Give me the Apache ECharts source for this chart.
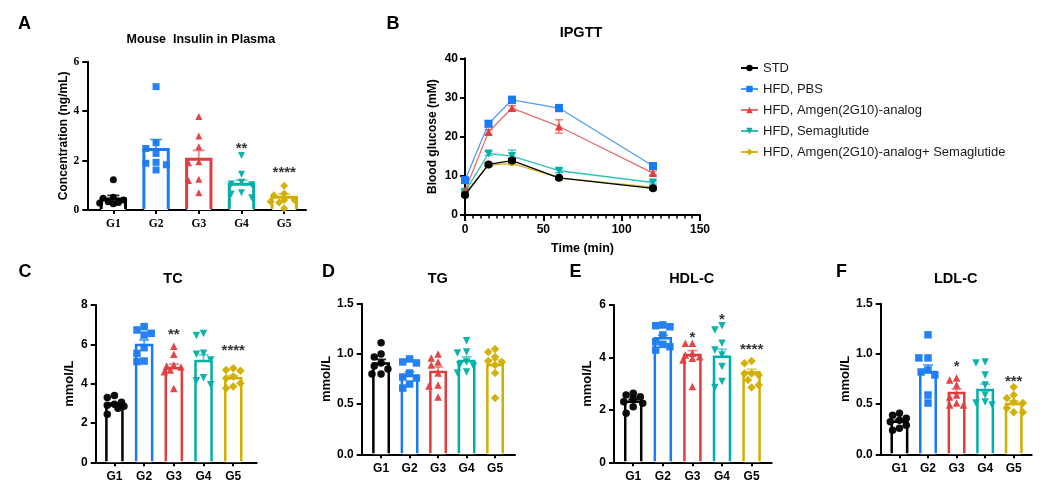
<!DOCTYPE html>
<html><head><meta charset="utf-8">
<script src="https://cdn.jsdelivr.net/npm/echarts@6/dist/echarts.min.js"></script>
<style>html,body{margin:0;padding:0;background:#fff}#c{width:1046px;height:490px}</style>
</head><body><div id="c"></div>
<script>
// ---------------- DATA ----------------
const groups = ['G1', 'G2', 'G3', 'G4', 'G5'];

// A: Mouse Insulin in Plasma (ng/mL)
const insulinMean = [0.45, 2.45, 2.05, 1.04, 0.52];
const insulinSem = [0.14, 0.40, 0.36, 0.17, 0.13];
const insulinPts = [
  [1.22, 0.52, 0.48, 0.40, 0.33, 0.28, 0.25, 0.30],
  [4.99, 2.72, 2.49, 2.29, 1.93, 1.89, 1.83, 1.62],
  [3.78, 2.99, 2.56, 1.95, 1.91, 1.24, 1.19, 0.70],
  [2.20, 1.45, 1.12, 1.02, 1.05, 0.70, 0.65, 0.50],
  [0.98, 0.67, 0.60, 0.40, 0.34, 0.30, 0.40, 0.07]
];
const insulinStars = ['', '', '', '**', '****'];
const insulinStarY = [0, 0, 0, 2.47, 1.50];

// B: IPGTT blood glucose (mM)
const ipgttTime = [0, 15, 30, 60, 120];
const ipgttSTD = [5.1, 12.9, 13.9, 9.5, 6.8];
const ipgttSTDSem = [0.3, 0.4, 0.5, 0.3, 0.3];
const ipgttPBS = [8.9, 23.3, 29.4, 27.3, 12.5];
const ipgttPBSSem = [0.5, 0.8, 0.9, 0.9, 0.6];
const ipgttAmgen = [6.2, 21.2, 27.3, 22.6, 10.7];
const ipgttAmgenSem = [0.3, 0.6, 0.6, 1.7, 0.5];
const ipgttSema = [5.95, 15.7, 15.05, 11.3, 8.3];
const ipgttSemaSem = [0.3, 0.5, 1.5, 0.5, 0.4];
const ipgttCombo = [5.6, 12.7, 13.2, 9.5, 7.1];
const ipgttComboSem = [0.2, 0.4, 0.4, 0.3, 0.3];
const ipgttNames = ['STD', 'HFD, PBS', 'HFD, Amgen(2G10)-analog', 'HFD, Semaglutide', 'HFD, Amgen(2G10)-analog+ Semaglutide'];

// C: TC (mmol/L)
const tcMean = [2.92, 5.97, 4.78, 5.15, 4.27];
const tcSem = [0.10, 0.25, 0.22, 0.32, 0.14];
const tcPts = [
  [3.40, 3.30, 3.05, 2.95, 2.90, 2.85, 2.75, 2.45],
  [6.90, 6.73, 6.56, 6.47, 5.83, 5.54, 5.15, 5.12],
  [5.90, 5.50, 4.95, 4.90, 4.85, 4.70, 4.60, 3.75],
  [6.55, 6.45, 5.55, 5.50, 5.20, 4.30, 4.15, 3.95],
  [4.78, 4.70, 4.65, 4.36, 4.27, 4.02, 3.85, 3.76]
];
const tcStars = ['', '', '**', '', '****'];
const tcStarY = [0, 0, 6.49, 0, 5.68];

// D: TG (mmol/L)
const tgMean = [0.905, 0.78, 0.82, 0.93, 0.89];
const tgSem = [0.04, 0.04, 0.05, 0.04, 0.05];
const tgPts = [
  [1.11, 1.00, 0.97, 0.91, 0.88, 0.85, 0.80, 0.80],
  [0.95, 0.92, 0.91, 0.81, 0.77, 0.76, 0.70, 0.66],
  [1.00, 0.96, 0.92, 0.89, 0.81, 0.69, 0.68, 0.57],
  [1.13, 1.02, 1.01, 0.92, 0.89, 0.88, 0.82, 0.81],
  [1.05, 1.02, 0.97, 0.93, 0.92, 0.89, 0.81, 0.56]
];
const tgStars = ['', '', '', '', ''];
const tgStarY = [0, 0, 0, 0, 0];

// E: HDL-C (mmol/L)
const hdlMean = [2.31, 4.73, 4.09, 4.03, 3.43];
const hdlSem = [0.08, 0.12, 0.17, 0.28, 0.12];
const hdlPts = [
  [2.63, 2.57, 2.50, 2.44, 2.31, 2.25, 2.12, 1.87],
  [5.24, 5.21, 5.17, 4.86, 4.60, 4.50, 4.41, 4.28],
  [4.54, 4.54, 4.16, 4.09, 4.03, 3.97, 3.90, 2.89],
  [5.21, 5.05, 4.54, 4.28, 4.09, 3.65, 3.08, 2.85],
  [3.86, 3.78, 3.39, 3.39, 3.33, 3.14, 2.95, 2.85]
];
const hdlStars = ['', '', '*', '*', '****'];
const hdlStarY = [0, 0, 4.74, 5.44, 4.27];

// F: LDL-C (mmol/L)
const ldlMean = [0.325, 0.82, 0.61, 0.64, 0.50];
const ldlSem = [0.02, 0.07, 0.04, 0.06, 0.03];
const ldlPts = [
  [0.41, 0.39, 0.36, 0.34, 0.325, 0.29, 0.26, 0.24],
  [1.19, 0.96, 0.96, 0.84, 0.82, 0.79, 0.59, 0.51],
  [0.76, 0.74, 0.69, 0.59, 0.57, 0.51, 0.49, 0.49],
  [0.92, 0.91, 0.79, 0.69, 0.59, 0.52, 0.51, 0.49],
  [0.67, 0.59, 0.56, 0.52, 0.51, 0.46, 0.42, 0.42]
];
const ldlStars = ['', '', '*', '', '***'];
const ldlStarY = [0, 0, 0.867, 0, 0.72];

// ---------------- STYLE / LAYOUT ----------------
const SANS = 'Liberation Sans, Arial, Helvetica, sans-serif';
const SERIF = 'Liberation Serif, Times New Roman, serif';
const colors = ['#000000', '#1a7bf2', '#e23d3d', '#00b0a8', '#d2ae00'];
const errColors = ['rgba(0,0,0,0.85)', 'rgba(26,123,242,0.7)', 'rgba(226,61,61,0.6)', 'rgba(0,176,168,0.6)', 'rgba(210,174,0,0.6)'];
const lineColors = ['#000000', 'rgba(26,123,242,0.75)', 'rgba(226,61,61,0.75)', 'rgba(0,176,168,0.8)', 'rgba(210,174,0,0.85)'];
const downTri = 'path://M0,0L10,0L5,9Z';
const groupSymbols = ['circle', 'rect', 'triangle', downTri, 'diamond'];

const barPanels = [
  {grid: 0, mean: insulinMean, sem: insulinSem, pts: insulinPts, stars: insulinStars, starY: insulinStarY,
   box: {left: 87.3, top: 61.7, width: 218.7, height: 148.3}, xmin: -0.61, xmax: 4.51, ymax: 6, yint: 2, dec: 0,
   serif: true, frac: 0.57, bw: 3, cap: 6, sym: 7, yname: 'Concentration (ng/mL)', nameGap: 13, nameSize: 12},
  {grid: 2, mean: tcMean, sem: tcSem, pts: tcPts, stars: tcStars, starY: tcStarY,
   box: {left: 95.7, top: 305, width: 161, height: 157.3}, xmin: -0.63, xmax: 4.79, ymax: 8, yint: 2, dec: 0,
   serif: false, frac: 0.54, bw: 2.5, cap: 5, sym: 7.5, yname: 'mmol/L', nameGap: 20, nameSize: 13},
  {grid: 3, mean: tgMean, sem: tgSem, pts: tgPts, stars: tgStars, starY: tgStarY,
   box: {left: 361.7, top: 303.7, width: 153.3, height: 150.6}, xmin: -0.68, xmax: 4.70, ymax: 1.5, yint: 0.5, dec: 1,
   serif: false, frac: 0.54, bw: 2.5, cap: 5, sym: 7.5, yname: 'mmol/L', nameGap: 27, nameSize: 13},
  {grid: 4, mean: hdlMean, sem: hdlSem, pts: hdlPts, stars: hdlStars, starY: hdlStarY,
   box: {left: 614, top: 305, width: 157.7, height: 157.3}, xmin: -0.65, xmax: 4.68, ymax: 6, yint: 2, dec: 0,
   serif: false, frac: 0.54, bw: 2.5, cap: 5, sym: 7.5, yname: 'mmol/L', nameGap: 20, nameSize: 13},
  {grid: 5, mean: ldlMean, sem: ldlSem, pts: ldlPts, stars: ldlStars, starY: ldlStarY,
   box: {left: 880.7, top: 303.7, width: 151, height: 150.6}, xmin: -0.656, xmax: 4.63, ymax: 1.5, yint: 0.5, dec: 1,
   serif: false, frac: 0.54, bw: 2.5, cap: 5, sym: 7.5, yname: 'mmol/L', nameGap: 27, nameSize: 13}
];
const lineBox = {left: 465, top: 58.3, width: 235, height: 156.7};

// beeswarm-like horizontal spread (layout only, values untouched)
function spread(values, sx, sy, minDist) {
  const cands = [0, -0.24, 0.24, -0.12, 0.12, -0.32, 0.32];
  const order = values.map((v, i) => i).sort((a, b) => values[b] - values[a]);
  const placed = [];
  const offs = new Array(values.length).fill(0);
  order.forEach(idx => {
    const v = values[idx];
    let best = 0, bestD = -1;
    for (const c of cands) {
      let md = Infinity;
      for (const p of placed) {
        const d = Math.hypot((c - p[0]) * sx, (v - p[1]) * sy);
        if (d < md) md = d;
      }
      if (md >= minDist) { best = c; bestD = md; break; }
      if (md > bestD) { bestD = md; best = c; }
    }
    placed.push([best, v]);
    offs[idx] = best;
  });
  return offs;
}

const grids = [], xAxes = [], yAxes = [], series = [];
const axisLineStyle = {color: '#000', width: 2};

barPanels.forEach(p => {
  grids[p.grid] = Object.assign({containLabel: false}, p.box);
});
grids[1] = Object.assign({containLabel: false}, lineBox);

for (let gi = 0; gi < 6; gi++) {
  if (gi === 1) {
    xAxes.push({
      type: 'value', gridIndex: 1, min: 0, max: 150, interval: 50,
      axisLine: {show: true, onZero: false, lineStyle: axisLineStyle},
      axisTick: {show: true, length: 6, lineStyle: {color: '#000', width: 2}},
      minorTick: {show: true, splitNumber: 10, length: 3.5, lineStyle: {color: '#000', width: 1.5}},
      axisLabel: {margin: 9, color: '#000', fontWeight: 'bold', fontSize: 12, fontFamily: SANS},
      splitLine: {show: false},
      name: 'Time (min)', nameLocation: 'middle', nameGap: 27,
      nameTextStyle: {color: '#000', fontWeight: 'bold', fontSize: 12.5, fontFamily: SANS}
    });
    yAxes.push({
      type: 'value', gridIndex: 1, min: 0, max: 40, interval: 10,
      axisLine: {show: true, onZero: false, lineStyle: axisLineStyle},
      axisTick: {show: true, length: 5, lineStyle: {color: '#000', width: 2}},
      axisLabel: {margin: 7, color: '#000', fontWeight: 'bold', fontSize: 12, fontFamily: SANS},
      splitLine: {show: false},
      name: 'Blood glucose (mM)', nameLocation: 'middle', nameGap: 26,
      nameTextStyle: {color: '#000', fontWeight: 'bold', fontSize: 12, fontFamily: SANS}
    });
    continue;
  }
  const p = barPanels.find(b => b.grid === gi);
  const fam = p.serif ? SERIF : SANS;
  const fs = p.serif ? 11.5 : 12;
  xAxes.push({
    type: 'value', gridIndex: gi, min: p.xmin, max: p.xmax,
    axisLine: {show: true, onZero: false, lineStyle: axisLineStyle},
    axisTick: {show: true, customValues: [0, 1, 2, 3, 4], length: 4, lineStyle: {color: '#000', width: 2}},
    axisLabel: {customValues: [0, 1, 2, 3, 4], formatter: v => groups[Math.round(v)] || '',
      margin: 8, color: '#000', fontWeight: 'bold', fontSize: fs, fontFamily: fam},
    splitLine: {show: false}
  });
  yAxes.push({
    type: 'value', gridIndex: gi, min: 0, max: p.ymax, interval: p.yint,
    axisLine: {show: true, onZero: false, lineStyle: axisLineStyle},
    axisTick: {show: true, length: 5, lineStyle: {color: '#000', width: 2}},
    axisLabel: {formatter: v => v.toFixed(p.dec), margin: 8, color: '#000', fontWeight: 'bold', fontSize: fs, fontFamily: fam},
    splitLine: {show: false},
    name: p.yname, nameLocation: 'middle', nameGap: p.nameGap,
    nameTextStyle: {color: '#000', fontWeight: 'bold', fontSize: p.nameSize, fontFamily: SANS}
  });
}

barPanels.forEach(p => {
  const gi = p.grid;
  const frac = p.frac, bw = p.bw, cap = p.cap;
  series.push({
    type: 'custom', xAxisIndex: gi, yAxisIndex: gi, z: 2, silent: true,
    data: p.mean.map((m, i) => [i, m]),
    renderItem: (params, api) => {
      const x = api.value(0), y = api.value(1);
      const b = api.coord([x, 0]), t = api.coord([x, y]);
      const w = api.size([frac, 0])[0];
      const x0 = b[0] - w / 2, x1 = b[0] + w / 2;
      const c = colors[params.dataIndex];
      return {type: 'group', children: [
        {type: 'rect', shape: {x: x0, y: t[1], width: w, height: b[1] - t[1]}, style: {fill: '#fff'}},
        {type: 'polyline', shape: {points: [[x0, b[1] - 1], [x0, t[1]], [x1, t[1]], [x1, b[1] - 1]]},
         style: {stroke: c, lineWidth: bw, fill: null, lineJoin: 'miter'}}
      ]};
    }
  });
  series.push({
    type: 'custom', xAxisIndex: gi, yAxisIndex: gi, z: 3, silent: true,
    data: p.mean.map((m, i) => [i, m, p.sem[i]]),
    renderItem: (params, api) => {
      const x = api.value(0), y = api.value(1), e = api.value(2);
      const a = api.coord([x, y]), t = api.coord([x, y + e]);
      const c = errColors[params.dataIndex];
      return {type: 'group', children: [
        {type: 'line', shape: {x1: a[0], y1: a[1], x2: t[0], y2: t[1]}, style: {stroke: c, lineWidth: 1.8}},
        {type: 'line', shape: {x1: t[0] - cap, y1: t[1], x2: t[0] + cap, y2: t[1]}, style: {stroke: c, lineWidth: 1.8}}
      ]};
    }
  });
  const sx = p.box.width / (p.xmax - p.xmin), sy = p.box.height / p.ymax;
  p.pts.forEach((arr, i) => {
    const offs = spread(arr, sx, sy, p.sym - 0.5);
    series.push({
      type: 'scatter', xAxisIndex: gi, yAxisIndex: gi, z: 4, silent: true,
      symbol: groupSymbols[i], symbolSize: i === 4 ? p.sym + 1 : p.sym,
      itemStyle: {color: colors[i], opacity: 0.95},
      data: arr.map((v, k) => [i + offs[k], v])
    });
  });
  const starData = [];
  p.stars.forEach((s, i) => { if (s) starData.push({value: [i, p.starY[i]], name: s}); });
  if (starData.length) series.push({
    type: 'scatter', xAxisIndex: gi, yAxisIndex: gi, z: 5, silent: true,
    symbol: 'circle', symbolSize: 1, itemStyle: {color: 'transparent'},
    label: {show: true, position: 'inside', formatter: d => d.name, color: '#000',
      fontSize: 15, fontWeight: 'bold', fontFamily: SANS},
    data: starData
  });
});

// IPGTT lines
const ipgttVals = [ipgttSTD, ipgttPBS, ipgttAmgen, ipgttSema, ipgttCombo];
const ipgttSems = [ipgttSTDSem, ipgttPBSSem, ipgttAmgenSem, ipgttSemaSem, ipgttComboSem];
const lineSymSize = [8, 8, 8, 8, 7];
const drawOrder = [4, 3, 2, 1, 0];
drawOrder.forEach((k, n) => {
  series.push({
    type: 'custom', xAxisIndex: 1, yAxisIndex: 1, z: 2 + n * 0.1, silent: true,
    data: ipgttTime.map((t, i) => [t, ipgttVals[k][i], ipgttSems[k][i]]),
    renderItem: (params, api) => {
      const x = api.value(0), y = api.value(1), e = api.value(2);
      const lo = api.coord([x, y - e]), hi = api.coord([x, y + e]);
      const c = lineColors[k];
      return {type: 'group', children: [
        {type: 'line', shape: {x1: lo[0], y1: lo[1], x2: hi[0], y2: hi[1]}, style: {stroke: c, lineWidth: 1.3}},
        {type: 'line', shape: {x1: hi[0] - 4, y1: hi[1], x2: hi[0] + 4, y2: hi[1]}, style: {stroke: c, lineWidth: 1.3}},
        {type: 'line', shape: {x1: lo[0] - 4, y1: lo[1], x2: lo[0] + 4, y2: lo[1]}, style: {stroke: c, lineWidth: 1.3}}
      ]};
    }
  });
  series.push({
    type: 'line', name: ipgttNames[k], xAxisIndex: 1, yAxisIndex: 1, z: 3 + n * 0.1, silent: true,
    data: ipgttTime.map((t, i) => [t, ipgttVals[k][i]]),
    symbol: groupSymbols[k], symbolSize: lineSymSize[k],
    lineStyle: {color: lineColors[k], width: 1.3},
    itemStyle: {color: colors[k]}
  });
});

const txt = (text, x, y, size) => ({
  type: 'text', x: x, y: y, silent: true,
  style: {text: text, fill: '#000', font: 'bold ' + size + 'px ' + SANS, align: 'center', verticalAlign: 'middle'}
});
const graphics = [
  txt('A', 24.5, 24.5, 18), txt('B', 393, 24.5, 18), txt('C', 25, 272, 18),
  txt('D', 328.5, 272, 18), txt('E', 575.5, 272, 18), txt('F', 841.5, 272, 18),
  txt('Mouse  Insulin in Plasma', 200.8, 39.5, 12.5),
  txt('IPGTT', 581, 33, 14.5),
  txt('TC', 173, 278.5, 14.5), txt('TG', 437.7, 278.5, 14.5),
  txt('HDL-C', 691.7, 278.5, 14.5), txt('LDL-C', 955.7, 278.5, 14.5)
];

const chart = echarts.init(document.getElementById('c'), null, {renderer: 'canvas'});
chart.setOption({
  animation: false,
  backgroundColor: '#fff',
  grid: grids,
  xAxis: xAxes,
  yAxis: yAxes,
  legend: {
    orient: 'vertical', left: 735, top: 56.5, itemWidth: 17, itemHeight: 8, itemGap: 8,
    data: ipgttNames, selectedMode: false,
    textStyle: {fontSize: 13, color: '#1a1a1a', fontFamily: SANS}
  },
  graphic: graphics,
  series: series
});
</script>
</body></html>
